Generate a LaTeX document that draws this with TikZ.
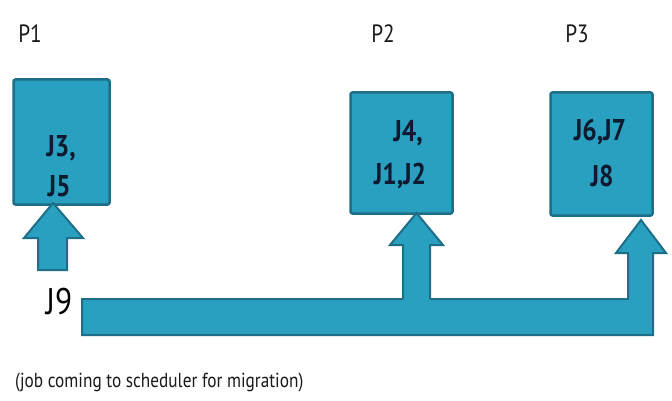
\documentclass[tikz,border=0pt]{standalone}
\usepackage{fontspec}
\setmainfont[FakeStretch=0.85]{PT Sans}
\definecolor{blk}{HTML}{2AA0C0}
\definecolor{blkline}{HTML}{1D6E86}
\definecolor{txtdark}{HTML}{0E1A30}
\definecolor{lbl}{HTML}{1A1A1A}
\begin{document}
\begin{tikzpicture}[x=1pt,y=-1pt,
  procbox/.style={draw=blkline,fill=blk,line width=2.5pt,rounded corners=2pt,inner sep=0pt},
  blockarrow/.style={draw=blkline,fill=blk,line width=2pt,line join=miter},
  jobtext/.style={text=txtdark,font=\fontsize{30}{34}\selectfont\bfseries,inner sep=0pt},
  plabel/.style={text=lbl,font=\fontsize{25}{28}\selectfont,inner sep=0pt}]
\useasboundingbox (0,0) rectangle (672,401);
\fill[white] (0,0) rectangle (672,401);
% labels
\node[plabel] (p1) at (30,34) {P1};
\node[plabel] (p2) at (383,34) {P2};
\node[plabel] (p3) at (577,34) {P3};
% boxes
\node[procbox,minimum width=96pt,minimum height=125pt] (b1) at (61.5,142) {};
\node[procbox,minimum width=102pt,minimum height=121pt] (b2) at (401.5,153) {};
\node[procbox,minimum width=102pt,minimum height=123pt] (b3) at (601.5,154) {};
\node[jobtext] (t1a) at (61,148) {J3,};
\node[jobtext] (t1b) at (59,186) {J5};
\node[jobtext] (t2a) at (408,133) {J4,};
\node[jobtext] (t2b) at (400,176) {J1,J2};
\node[jobtext] (t3a) at (600,132) {J6,J7};
\node[jobtext] (t3b) at (602,176) {J8};
% arrow into P1
\draw[blockarrow] (38,270) -- (38,238) -- (24,238) -- (53,203) -- (83,238) -- (67,238) -- (67,270) -- cycle;
% bar with arrow into P3
\draw[blockarrow] (82,299) -- (628,299) -- (628,253) -- (616,253) -- (641,220) -- (666,253) -- (653,253) -- (653,335) -- (82,335) -- cycle;
% arrow into P2
\fill[blk] (403,302) -- (403,245) -- (390,245) -- (416.5,213) -- (443,245) -- (430,245) -- (430,302) -- cycle;
\draw[blkline,line width=2pt,line join=miter] (403,299) -- (403,245) -- (390,245) -- (416.5,213) -- (443,245) -- (430,245) -- (430,299);
% J9 and caption
\node[text=black,font=\fontsize{37}{40}\selectfont,inner sep=0pt] (j9) at (59,302) {J9};
\node[text=lbl,font=\fontsize{20.3}{24}\selectfont,inner sep=0pt,anchor=west] (cap) at (15,383) {(job coming to scheduler for migration)};
\end{tikzpicture}
\end{document}
